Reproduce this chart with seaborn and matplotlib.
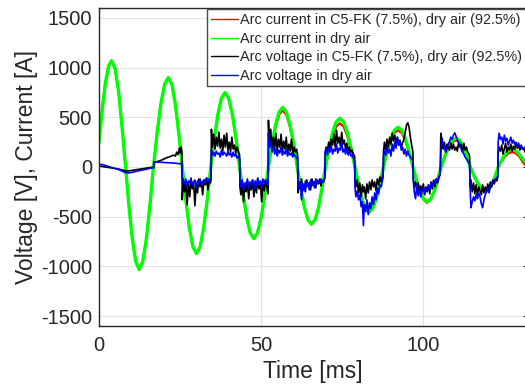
import matplotlib
matplotlib.use("Agg")
import matplotlib.pyplot as plt
import seaborn as sns

# ---------------- data ----------------
cur_t = [0, 1, 2, 3, 3.9, 5.0, 6.05, 7.1, 8.2,
         9.25, 10.3, 11.35, 12.4, 13.5, 14.6, 15.7, 16.8,
         17.95, 19.1, 20.25, 21.4, 22.5, 23.55, 24.6, 25.7,
         26.8, 27.9, 29.0, 30.1, 31.2, 32.3, 33.4, 34.5,
         35.6, 36.7, 37.8, 38.9, 40.0, 41.15, 42.3, 43.4,
         44.5, 45.6, 46.7, 47.8, 48.9, 50.05, 51.2, 52.3,
         53.4, 54.5, 55.6, 56.7, 57.8, 58.95, 60.1, 61.2,
         62.3, 63.4, 64.5, 65.6, 66.7, 67.75, 68.8, 69.9,
         71.0, 72.1, 73.2, 74.3, 75.5, 76.65, 77.8, 79.0,
         80.1, 81.15, 82.2, 83.3, 84.4, 85.55, 86.7, 87.8,
         88.9, 90.05, 91.2, 92.3, 93.45, 94.6, 95.75, 96.9,
         98.0, 99.1, 100.2, 101.3, 102.4, 103.45, 104.5, 105.6,
         106.75, 107.9, 109.05, 110.2, 111.3, 112.4, 113.5, 114.6,
         115.8, 117.05, 118.3, 119.5, 120.4, 121.35, 122.3, 123.2,
         124.3, 125.35, 126.4, 127.5, 128.6, 129.7, 131.0, 132.5]

cur_air = [245, 583, 850, 1020, 1070, 989, 757, 410, 0,
           -394, -728, -952, -1030, -952, -728, -394, 0,
           345, 636, 832, 900, 832, 636, 345, 0,
           -333, -615, -804, -870, -804, -615, -333, 0,
           287, 530, 693, 750, 693, 530, 287, 0,
           -276, -509, -665, -720, -665, -509, -276, 0,
           230, 424, 554, 600, 554, 424, 230, 0,
           -220, -407, -531, -575, -531, -407, -220, 0,
           188, 346, 453, 490, 453, 346, 188, 0,
           -174, -322, -420, -455, -420, -322, -174, 0,
           153, 283, 370, 400, 370, 283, 153, 0,
           -134, -247, -323, -350, -323, -247, -134, 0,
           111, 205, 268, 290, 268, 205, 111, 0,
           -92, -170, -222, -240, -222, -170, -92, 0,
           69, 127, 166, 180, 166, 127, 70, 20]

cur_c5 = [245, 583, 850, 1020, 1065, 989, 757, 410, 0,
          -394, -728, -952, -1035, -952, -728, -394, 0,
          345, 636, 832, 895, 832, 636, 345, 0,
          -333, -615, -804, -875, -804, -615, -333, 0,
          287, 530, 693, 740, 693, 530, 287, 0,
          -276, -509, -665, -725, -665, -509, -276, 0,
          219, 403, 526, 570, 526, 403, 219, 0,
          -220, -407, -531, -580, -531, -407, -220, 0,
          169, 311, 407, 440, 407, 311, 169, 0,
          -174, -322, -420, -460, -420, -322, -174, 0,
          141, 262, 342, 370, 342, 262, 141, 0,
          -134, -247, -330, -360, -330, -247, -134, 0,
          103, 191, 249, 270, 249, 191, 103, 0,
          -92, -175, -230, -250, -230, -175, -92, 0,
          57, 106, 139, 150, 139, 106, 40, -10]

volt_t = ([0, 1, 2, 3, 4, 5, 6, 7, 8, 9, 10, 11, 12, 13, 14, 15, 16, 16.9, 17.0,
           18, 19, 20, 21, 22, 23, 23.6, 24.0, 24.4, 24.8, 25.1, 25.4, 25.6]
          + [25.7, 26.0, 26.4, 26.8, 27.2, 27.6, 28.0, 28.4, 28.8, 29.2, 29.6, 30.0,
             30.4, 30.8, 31.2, 31.6, 32.0, 32.4, 32.8, 33.2, 33.6, 34.0, 34.4, 34.6]
          + [34.7, 35.0, 35.4, 35.8, 36.2, 36.6, 37.0, 37.4, 37.8, 38.2, 38.6, 39.0,
             39.4, 39.8, 40.2, 40.6, 41.0, 41.4, 41.8, 42.2, 42.6, 43.0, 43.4]
          + [43.5, 43.8, 44.2, 44.6, 45.0, 45.4, 45.8, 46.2, 46.6, 47.0, 47.4, 47.8,
             48.2, 48.6, 49.0, 49.4, 49.8, 50.2, 50.6, 51.0, 51.4, 51.8, 52.2]
          + [52.3, 52.6, 53.0, 53.4, 53.8, 54.2, 54.6, 55.0, 55.4, 55.8, 56.2, 56.6,
             57.0, 57.4, 57.8, 58.2, 58.6, 59.0, 59.4, 59.8, 60.2, 60.6, 61.0, 61.3]
          + [61.4, 61.7, 62.1, 62.5, 62.9, 63.3, 63.7, 64.1, 64.5, 64.9, 65.3, 65.7,
             66.1, 66.5, 66.9, 67.3, 67.7, 68.1, 68.5, 68.9, 69.3, 69.7]
          + [69.8, 70.1, 70.5, 70.9, 71.3, 71.7, 72.1, 72.5, 72.9, 73.3, 73.7, 74.1,
             74.5, 74.9, 75.3, 75.7, 76.1, 76.5, 76.9, 77.3, 77.7, 78.1, 78.5, 78.9]
          + [79.0, 79.3, 79.7, 80.1, 80.5, 80.9, 81.3, 81.6, 81.9, 82.3, 82.7, 83.1,
             83.5, 83.9, 84.3, 84.7, 85.1, 85.5, 85.9, 86.3, 86.7, 87.1, 87.5, 87.7]
          + [87.8, 88.1, 88.5, 88.9, 89.3, 89.7, 90.1, 90.5, 90.9, 91.3, 91.7, 92.1,
             92.5, 92.9, 93.3, 93.7, 94.1, 94.5, 94.9, 95.3, 95.7, 96.1, 96.5, 96.9]
          + [97.0, 97.3, 97.7, 98.1, 98.5, 98.9, 99.3, 99.7, 100.1, 100.5, 100.9,
             101.3, 101.7, 102.1, 102.5, 102.9, 103.3, 103.7, 104.1, 104.5, 104.9, 105.3]
          + [105.5, 105.8, 106.2, 106.6, 107.0, 107.4, 107.8, 108.2, 108.6, 109.0,
             109.4, 109.8, 110.2, 110.6, 111.0, 111.4, 111.8, 112.2, 112.6, 113.0,
             113.4, 113.8, 114.2, 114.4]
          + [114.5, 114.8, 115.2, 115.6, 116.0, 116.4, 116.8, 117.2, 117.6, 118.0,
             118.4, 118.8, 119.2, 119.6, 120.0, 120.4, 120.8, 121.2, 121.6, 122.0,
             122.4, 122.8, 123.1]
          + [123.2, 123.5, 123.9, 124.3, 124.7, 125.1, 125.5, 125.9, 126.3, 126.7,
             127.1, 127.5, 127.9, 128.3, 128.7, 129.1, 129.5, 129.9, 130.3, 130.7,
             131.0, 131.5, 132.0, 132.5])

volt_c5 = ([10, 5, 0, -5, -10, -15, -20, -28, -38, -40, -35, -30, -25, -20, -15, -10, -5, 0, 45,
            55, 65, 80, 95, 105, 120, 110, 150, 125, 190, 140, 200, 150]
           + [-330, -120, -250, -140, -380, -160, -300, -130, -220, -150, -390, -170,
              -260, -120, -200, -150, -280, -130, -180, -110, -230, -140, -160, -120]
           + [380, 200, 330, 180, 300, 210, 350, 190, 280, 160, 320, 200,
              340, 170, 250, 150, 300, 180, 220, 140, 200, 160, 120]
           + [-200, -280, -150, -350, -180, -250, -140, -320, -170, -230, -130, -300,
              -160, -260, -120, -220, -150, -350, -170, -240, -130, -200, -270]
           + [470, 230, 380, 200, 300, 180, 340, 160, 280, 200, 330, 150,
              260, 180, 300, 140, 230, 160, 280, 130, 200, 150, 180, 120]
           + [-260, -150, -220, -120, -200, -170, -250, -130, -190, -160, -230, -120,
              -180, -150, -210, -130, -170, -120, -190, -140, -150, -110]
           + [150, 200, 170, 250, 190, 280, 220, 330, 200, 370, 240, 300,
              210, 350, 230, 270, 180, 240, 160, 200, 150, 170, 130, 110]
           + [-150, -200, -130, -260, -160, -300, -180, -250, -200, -320, -170, -260,
              -150, -230, -130, -200, -150, -240, -120, -180, -100, -150, -90, -60]
           + [150, 250, 170, 280, 200, 300, 230, 340, 260, 320, 240, 300,
              220, 270, 200, 240, 280, 350, 420, 445, 400, 300, 220, 150]
           + [-120, -200, -150, -230, -160, -260, -190, -240, -170, -280, -200,
              -250, -180, -270, -150, -220, -130, -200, -120, -160, -100, -80]
           + [340, 280, 180, 250, 150, 230, 200, 170, 240, 180, 230, 170,
              200, 160, 250, 200, 230, 150, 240, 170, 200, 150, 130, 100]
           + [-200, -130, -250, -160, -270, -180, -290, -200, -240, -280, -180, -260,
              -200, -250, -170, -230, -150, -200, -130, -170, -120, -140, -100]
           + [140, 200, 160, 220, 130, 180, 240, 150, 200, 170, 230, 160,
              210, 180, 240, 190, 220, 170, 200, 180, 190, 150, 170, 120])

volt_air = ([27, 25, 15, 5, -5, -15, -25, -40, -55, -60, -55, -48, -42, -35, -28, -20, -12, -8, 52,
             50, 48, 46, 45, 42, 40, 38, 36, 35, 34, 32, 30, 30]
            + [-130, -150, -170, -120, -200, -140, -160, -110, -190, -150, -130, -210,
               -140, -170, -120, -180, -150, -130, -160, -110, -150, -120, -140, -100]
            + [170, 120, 150, 110, 160, 130, 140, 100, 170, 120, 150, 130,
               110, 160, 120, 140, 100, 150, 110, 130, 90, 110, 80]
            + [-150, -200, -130, -230, -160, -180, -120, -210, -150, -170, -130, -220,
               -140, -190, -110, -180, -140, -200, -120, -160, -130, -150, -190]
            + [340, 200, 260, 150, 210, 130, 180, 110, 170, 140, 200, 120,
               160, 130, 180, 110, 150, 120, 140, 100, 130, 110, 90, 100]
            + [-180, -220, -150, -330, -170, -240, -140, -200, -160, -230, -130, -190,
               -150, -210, -120, -170, -140, -160, -120, -150, -130, -110]
            + [140, 180, 120, 200, 150, 210, 130, 180, 160, 230, 140, 190,
               170, 250, 150, 180, 130, 190, 120, 160, 110, 130, 90, 60]
            + [-200, -300, -240, -330, -280, -400, -350, -590, -380, -450, -330, -480,
               -360, -420, -300, -380, -260, -330, -210, -270, -180, -200, -130, -100]
            + [100, 160, 120, 200, 140, 180, 110, 230, 160, 250, 190, 300,
               220, 260, 170, 200, 130, 180, 110, 160, 120, 100, 80, 60]
            + [-130, -250, -320, -180, -290, -220, -300, -250, -200, -270, -210,
               -240, -180, -230, -160, -190, -140, -170, -120, -150, -100, -70]
            + [120, 290, 240, 200, 150, 180, 230, 260, 300, 280, 320, 345,
               310, 270, 250, 220, 180, 150, 130, 100, 80, 60, 40, 20]
            + [-180, -410, -350, -300, -340, -280, -320, -260, -300, -370, -410, -330,
               -280, -250, -220, -260, -190, -170, -150, -140, -120, -110, -90]
            + [250, 340, 280, 300, 230, 320, 260, 290, 220, 260, 300, 240,
               270, 230, 250, 210, 240, 200, 220, 190, 180, 200, 170, 150])

labels = ["Arc current in C5-FK (7.5%), dry air (92.5%)",
          "Arc current in dry air",
          "Arc voltage in C5-FK (7.5%), dry air (92.5%)",
          "Arc voltage in dry air"]
x_ticks = [0, 50, 100]
y_ticks = [-1500, -1000, -500, 0, 500, 1000, 1500]

# ---------------- styling ----------------
sns.set_style("white")
plt.rcParams['font.family'] = ['Liberation Sans', 'DejaVu Sans']
plt.rcParams['axes.unicode_minus'] = False
txt = '#262626'

fig = plt.figure(figsize=(5.25, 3.92), dpi=100)
ax = fig.add_axes([99 / 525, 66 / 392, 428 / 525, 318 / 392])

sns.lineplot(x=cur_t, y=cur_c5, ax=ax, color='#ff0000', lw=1.6,
             estimator=None, sort=False, label=labels[0])
sns.lineplot(x=cur_t, y=cur_air, ax=ax, color='#00ff00', lw=2.4,
             estimator=None, sort=False, label=labels[1])
sns.lineplot(x=volt_t, y=volt_c5, ax=ax, color='#000000', lw=1.2,
             estimator=None, sort=False, label=labels[2])
sns.lineplot(x=volt_t, y=volt_air, ax=ax, color='#0000ff', lw=1.2,
             estimator=None, sort=False, label=labels[3])

ax.set_xlim(0, 132.1)
ax.set_ylim(-1600, 1600)
ax.set_xticks(x_ticks)
ax.set_yticks(y_ticks)
ax.grid(True, color='#e3e3e3', lw=0.8)
ax.set_axisbelow(True)
for s in ax.spines.values():
    s.set_color(txt)
    s.set_linewidth(1.0)
ax.tick_params(direction='in', length=3.2, width=0.8, colors=txt,
               labelsize=14.5, top=True, right=True)
ax.tick_params(axis='x', pad=7)
ax.tick_params(axis='y', pad=5)

ax.set_xlabel("Time [ms]", fontsize=16.5, color=txt, labelpad=4)
ax.set_ylabel("Voltage [V], Current [A]", fontsize=16.5, color=txt, labelpad=2)

leg = ax.legend(loc='upper right', fontsize=10.4, frameon=True, fancybox=False,
                framealpha=1, edgecolor='#4a4a4a', borderpad=0.26,
                labelspacing=0.31, handlelength=1.9, handletextpad=0.12,
                borderaxespad=0.1)
leg.get_frame().set_linewidth(1.0)
for t in leg.get_texts():
    t.set_color(txt)
for line in leg.get_lines():
    line.set_linewidth(1.0)

fig.savefig("out.png", dpi=100)
